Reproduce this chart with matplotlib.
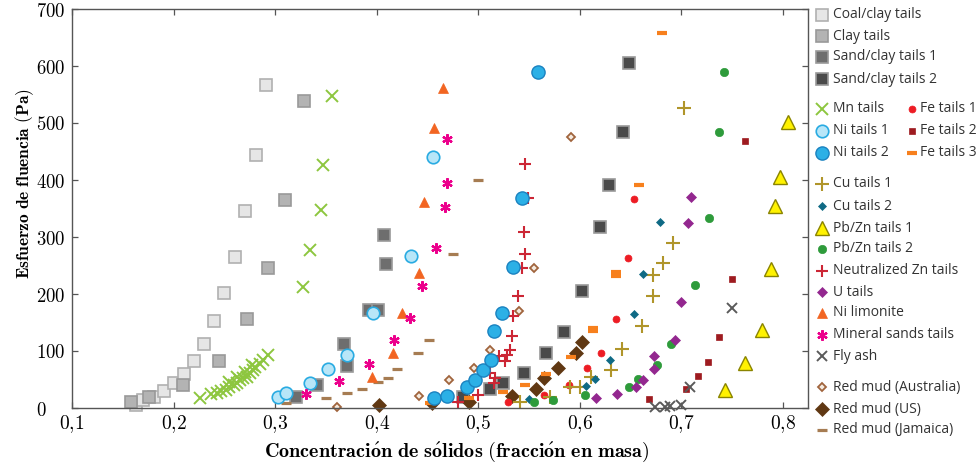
import numpy as np
import matplotlib.pyplot as plt
from matplotlib.lines import Line2D

plt.rcParams['mathtext.fontset'] = 'cm'

# solids concentration (mass fraction) vs yield stress (Pa)
coal_clay_x = [0.163, 0.170, 0.181, 0.191, 0.200, 0.210, 0.220, 0.230, 0.240, 0.250, 0.260, 0.270, 0.281, 0.291]
coal_clay_y = [6, 14, 19, 30, 43, 60, 83, 113, 153, 202, 265, 345, 444, 567]

clay_x = [0.158, 0.176, 0.209, 0.245, 0.272, 0.293, 0.310, 0.328]
clay_y = [11, 20, 40, 83, 157, 245, 365, 539]

sand_clay1_x = [0.321, 0.341, 0.368, 0.371, 0.392, 0.401, 0.407, 0.409]
sand_clay1_y = [20, 40, 112, 74, 172, 172, 303, 253]

sand_clay2_x = [0.485, 0.512, 0.524, 0.545, 0.567, 0.584, 0.602, 0.620, 0.629, 0.642, 0.648]
sand_clay2_y = [20, 33, 43, 62, 96, 133, 205, 317, 392, 485, 606]

mn_x = [0.226, 0.237, 0.243, 0.247, 0.252, 0.255, 0.259, 0.262, 0.265, 0.268, 0.272, 0.275, 0.278,
        0.280, 0.285, 0.288, 0.293, 0.255, 0.262, 0.270, 0.277, 0.327, 0.334, 0.345, 0.347, 0.356]
mn_y = [17, 24, 27, 29, 32, 36, 40, 43, 49, 52, 55, 61, 67, 72, 78, 85, 93, 46, 55, 64, 75, 212, 278, 348, 427, 547]

ni1_x = [0.303, 0.311, 0.334, 0.352, 0.371, 0.396, 0.434, 0.455]
ni1_y = [20, 26, 44, 68, 93, 166, 267, 441]

ni2_x = [0.456, 0.469, 0.489, 0.497, 0.505, 0.513, 0.515, 0.523, 0.534, 0.543, 0.559]
ni2_y = [17, 21, 36, 49, 67, 85, 135, 166, 248, 369, 590]

fe1_x = [0.529, 0.565, 0.589, 0.607, 0.621, 0.636, 0.647, 0.653]
fe1_y = [11, 22, 40, 70, 97, 156, 264, 367]

fe2_x = [0.668, 0.704, 0.716, 0.726, 0.737, 0.750, 0.763]
fe2_y = [15, 34, 56, 81, 125, 227, 469]

fe3_x = [0.452, 0.491, 0.524, 0.546, 0.567, 0.591, 0.613, 0.613, 0.636, 0.636, 0.658, 0.681]
fe3_y = [9, 18, 28, 41, 60, 90, 141, 135, 239, 232, 391, 658]

cu1_x = [0.541, 0.571, 0.590, 0.600, 0.611, 0.631, 0.641, 0.661, 0.672, 0.672, 0.682, 0.692, 0.703]
cu1_y = [11, 20, 36, 36, 55, 67, 103, 143, 197, 234, 254, 289, 527]

cu2_x = [0.550, 0.606, 0.615, 0.630, 0.653, 0.662, 0.679]
cu2_y = [16, 39, 51, 84, 165, 235, 326]

pbzn1_x = [0.743, 0.763, 0.779, 0.788, 0.792, 0.797, 0.805]
pbzn1_y = [32, 79, 136, 244, 355, 405, 502]

pbzn2_x = [0.555, 0.574, 0.605, 0.648, 0.657, 0.676, 0.690, 0.713, 0.727, 0.737, 0.742]
pbzn2_y = [10, 14, 23, 37, 51, 75, 113, 215, 333, 485, 590]

nzn_x = [0.480, 0.500, 0.512, 0.515, 0.516, 0.520, 0.526, 0.528, 0.531, 0.533, 0.534, 0.539, 0.543,
         0.546, 0.545, 0.549, 0.546]
nzn_y = [10, 23, 62, 43, 52, 91, 83, 93, 102, 126, 161, 196, 245, 271, 308, 369, 428]

u_x = [0.616, 0.637, 0.655, 0.662, 0.673, 0.673, 0.694, 0.700, 0.706, 0.709]
u_y = [17, 24, 37, 50, 68, 92, 120, 186, 324, 371]

nilim_x = [0.395, 0.416, 0.425, 0.442, 0.447, 0.456, 0.465]
nilim_y = [55, 97, 166, 236, 362, 491, 562]

minsand_x = [0.330, 0.363, 0.392, 0.417, 0.433, 0.445, 0.458, 0.467, 0.469, 0.469]
minsand_y = [25, 47, 78, 120, 158, 214, 280, 353, 394, 472]

flyash_x = [0.674, 0.684, 0.689, 0.700, 0.708, 0.750]
flyash_y = [2, 2, 3, 6, 37, 175]

rm_aus_x = [0.361, 0.442, 0.471, 0.496, 0.512, 0.540, 0.555, 0.591]
rm_aus_y = [1, 21, 50, 71, 102, 170, 246, 476]

rm_us_x = [0.402, 0.454, 0.491, 0.533, 0.557, 0.565, 0.578, 0.596, 0.602]
rm_us_y = [5, 8, 11, 21, 33, 53, 70, 97, 116]

rm_jam_x = [0.311, 0.350, 0.371, 0.386, 0.401, 0.411, 0.420, 0.441, 0.451, 0.475, 0.500]
rm_jam_y = [8, 18, 26, 34, 46, 53, 68, 96, 120, 271, 400]

x_ticks = [0.1, 0.2, 0.3, 0.4, 0.5, 0.6, 0.7, 0.8]
x_tick_labels = ['0,1', '0,2', '0,3', '0,4', '0,5', '0,6', '0,7', '0,8']
y_ticks = [0, 100, 200, 300, 400, 500, 600, 700]

# marker styles
st = {
    'Coal/clay tails': dict(marker='s', ms=8.5, mfc='#e6e6e6', mec='#b0b0b0', mew=1.2),
    'Clay tails': dict(marker='s', ms=8.5, mfc='#b3b3b3', mec='#999999', mew=1.2),
    'Sand/clay tails 1': dict(marker='s', ms=9, mfc='#6e6e6e', mec='#9a9a9a', mew=1.2),
    'Sand/clay tails 2': dict(marker='s', ms=9, mfc='#4a4a4a', mec='#9a9a9a', mew=1.2),
    'Mn tails': dict(marker='x', ms=9, mec='#8dc63f', mew=1.4),
    'Ni tails 1': dict(marker='o', ms=9, mfc='#b8e6f8', mec='#29abe2', mew=1.2),
    'Ni tails 2': dict(marker='o', ms=9.5, mfc='#2cb0e6', mec='#1b82c0', mew=1.0),
    'Fe tails 1': dict(marker='o', ms=5, mfc='#ed1c24', mec='#ed1c24', mew=0.5),
    'Fe tails 2': dict(marker='s', ms=5, mfc='#9e1b20', mec='#9e1b20', mew=0.5),
    'Fe tails 3': dict(marker='_', ms=7, mec='#f7801d', mew=3.0),
    'Cu tails 1': dict(marker='+', ms=10, mec='#b0952a', mew=1.5),
    'Cu tails 2': dict(marker='D', ms=3.8, mfc='#0f6a85', mec='#0f6a85', mew=0.5),
    'Pb/Zn tails 1': dict(marker='^', ms=10, mfc='#fff200', mec='#8a8400', mew=1.0),
    'Pb/Zn tails 2': dict(marker='o', ms=6, mfc='#2e9b3b', mec='#2e9b3b', mew=0.5),
    'Neutralized Zn tails': dict(marker='+', ms=8, mec='#cc2635', mew=1.5),
    'U tails': dict(marker='D', ms=5.5, mfc='#93278f', mec='#93278f', mew=0.5),
    'Ni limonite': dict(marker='^', ms=7, mfc='#f26522', mec='#f26522', mew=0.5),
    'Mineral sands tails': dict(marker=(6, 2, 0), ms=7.5, mec='#ec008c', mew=1.6),
    'Fly ash': dict(marker='x', ms=7, mec='#5a5a5a', mew=1.4),
    'Red mud (Australia)': dict(marker='D', ms=4.3, mfc='#f5ebe0', mec='#a0643c', mew=1.3),
    'Red mud (US)': dict(marker='D', ms=7.5, mfc='#603813', mec='#603813', mew=0.5),
    'Red mud (Jamaica)': dict(marker='_', ms=6.5, mec='#a67c52', mew=2.3),
}

series = [
    ('Coal/clay tails', coal_clay_x, coal_clay_y),
    ('Clay tails', clay_x, clay_y),
    ('Sand/clay tails 1', sand_clay1_x, sand_clay1_y),
    ('Sand/clay tails 2', sand_clay2_x, sand_clay2_y),
    ('Mn tails', mn_x, mn_y),
    ('Red mud (Jamaica)', rm_jam_x, rm_jam_y),
    ('Red mud (Australia)', rm_aus_x, rm_aus_y),
    ('Ni tails 1', ni1_x, ni1_y),
    ('Ni limonite', nilim_x, nilim_y),
    ('Mineral sands tails', minsand_x, minsand_y),
    ('Red mud (US)', rm_us_x, rm_us_y),
    ('Fe tails 3', fe3_x, fe3_y),
    ('Neutralized Zn tails', nzn_x, nzn_y),
    ('Ni tails 2', ni2_x, ni2_y),
    ('Fe tails 1', fe1_x, fe1_y),
    ('Cu tails 1', cu1_x, cu1_y),
    ('Cu tails 2', cu2_x, cu2_y),
    ('Pb/Zn tails 2', pbzn2_x, pbzn2_y),
    ('U tails', u_x, u_y),
    ('Fe tails 2', fe2_x, fe2_y),
    ('Fly ash', flyash_x, flyash_y),
    ('Pb/Zn tails 1', pbzn1_x, pbzn1_y),
]

W, H = 980, 468
fig = plt.figure(figsize=(W / 100, H / 100), dpi=100)
ax = fig.add_axes([72 / W, 1 - 408 / H, (808 - 72) / W, (408 - 9) / H])

for name, xs, ys in series:
    ax.plot(xs, ys, linestyle='none', clip_on=False, **st[name])

ax.set_xlim(0.1, 0.8246)
ax.set_ylim(0, 700)
ax.set_xticks(x_ticks)
ax.set_xticklabels(['$' + t.replace(',', '{,}') + '$' for t in x_tick_labels], fontsize=14)
ax.set_yticks(y_ticks)
# y tick labels are left-aligned in the original
ax.set_yticklabels(['$%d$' % v for v in y_ticks], fontsize=13.5, ha='left')
ax.tick_params(direction='in', length=4, width=0.9, color='#555555', top=True, right=True)
ax.tick_params(axis='x', pad=3.5)
ax.tick_params(axis='y', pad=26)
for sp in ax.spines.values():
    sp.set_color('#555555')
    sp.set_linewidth(1.0)

fig.text(457 / W, 1 - 452 / H,
         r'$\mathbf{Concentraci\acute{o}n\ de\ s\acute{o}lidos\ (fracci\acute{o}n\ en\ masa)}$',
         ha='center', va='center', fontsize=14.5)
fig.text(25 / W, 1 - 184 / H, r'$\mathbf{Esfuerzo\ de\ fluencia\ (Pa)}$',
         ha='center', va='center', rotation=90, fontsize=12.5)

# legend drawn in pixel positions to the right of the axes
legend_rows = [
    ('Coal/clay tails', 0, 15), ('Clay tails', 0, 36), ('Sand/clay tails 1', 0, 57), ('Sand/clay tails 2', 0, 79),
    ('Mn tails', 0, 109), ('Ni tails 1', 0, 131), ('Ni tails 2', 0, 153),
    ('Fe tails 1', 1, 109), ('Fe tails 2', 1, 131), ('Fe tails 3', 1, 153),
    ('Cu tails 1', 0, 184), ('Cu tails 2', 0, 206), ('Pb/Zn tails 1', 0, 228), ('Pb/Zn tails 2', 0, 249),
    ('Neutralized Zn tails', 0, 271), ('U tails', 0, 292), ('Ni limonite', 0, 313),
    ('Mineral sands tails', 0, 335), ('Fly ash', 0, 356),
    ('Red mud (Australia)', 0, 387), ('Red mud (US)', 0, 409), ('Red mud (Jamaica)', 0, 430),
]
col_marker = [822, 912]
col_text = [833, 920]
for name, col, py in legend_rows:
    sty = dict(st[name])
    fig.add_artist(Line2D([col_marker[col] / W], [1 - py / H], transform=fig.transFigure,
                          linestyle='none', **sty))
    fig.text(col_text[col] / W, 1 - py / H, name, ha='left', va='center',
             fontsize=10, family='Open Sans', color='#333333')

fig.savefig('out.png', dpi=100)
